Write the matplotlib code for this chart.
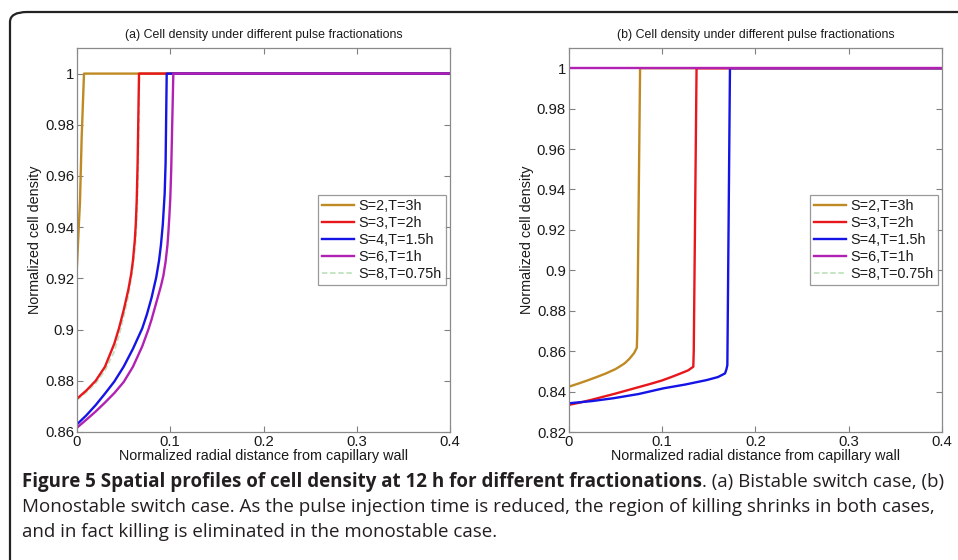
import matplotlib
matplotlib.use("Agg")
import matplotlib.pyplot as plt
from matplotlib.patches import FancyBboxPatch

plt.rcParams['font.family'] = ['Liberation Sans', 'DejaVu Sans']

labels = ["S=2,T=3h", "S=3,T=2h", "S=4,T=1.5h", "S=6,T=1h", "S=8,T=0.75h"]
colors = ["#BF8A24", "#E8171C", "#1414E6", "#B021B4", "#BFE3BF"]

# Panel (a) – bistable switch
a_x_s2 = [0, 0.001, 0.002, 0.0032, 0.005, 0.0075, 0.4]
a_y_s2 = [0.925, 0.933, 0.941, 0.950, 0.975, 1.0, 1.0]
a_x_s3 = [0, 0.01, 0.02, 0.03, 0.04, 0.045, 0.05, 0.055, 0.058, 0.06, 0.062, 0.063, 0.064, 0.065, 0.0665, 0.4]
a_y_s3 = [0.873, 0.8762, 0.880, 0.8855, 0.8945, 0.9005, 0.9075, 0.9155, 0.9215, 0.927, 0.935, 0.941, 0.950, 0.965, 1.0, 1.0]
a_x_s4 = [0, 0.01, 0.02, 0.03, 0.04, 0.05, 0.06, 0.07, 0.075, 0.08, 0.085, 0.088, 0.09, 0.092, 0.094, 0.095, 0.0962, 0.4]
a_y_s4 = [0.863, 0.8665, 0.8705, 0.875, 0.8797, 0.8855, 0.8925, 0.9005, 0.906, 0.9125, 0.9205, 0.927, 0.933, 0.941, 0.953, 0.965, 1.0, 1.0]
a_x_s6 = [0, 0.01, 0.02, 0.03, 0.04, 0.05, 0.06, 0.07, 0.0765, 0.08, 0.085, 0.09, 0.0926, 0.095, 0.097, 0.098, 0.099, 0.1, 0.101, 0.1033, 0.4]
a_y_s6 = [0.8617, 0.8648, 0.868, 0.8715, 0.8752, 0.8795, 0.8855, 0.8935, 0.900, 0.904, 0.9105, 0.917, 0.921, 0.9265, 0.933, 0.938, 0.944, 0.951, 0.962, 1.0, 1.0]
a_x_s8 = [0, 0.01, 0.02, 0.03, 0.04, 0.046, 0.05, 0.055, 0.06, 0.063, 0.0645, 0.0655, 0.067, 0.4]
a_y_s8 = [0.8725, 0.8755, 0.879, 0.884, 0.8915, 0.899, 0.905, 0.913, 0.9245, 0.935, 0.947, 0.960, 1.0, 1.0]

# Panel (b) – monostable switch
b_x_s2 = [0, 0.01, 0.02, 0.03, 0.04, 0.05, 0.055, 0.06, 0.065, 0.07, 0.073, 0.0735, 0.0765, 0.4]
b_y_s2 = [0.8424, 0.8439, 0.8455, 0.8472, 0.849, 0.8511, 0.8525, 0.854, 0.8562, 0.859, 0.8617, 0.870, 1.0, 1.0]
b_x_s3 = [0, 0.0125, 0.025, 0.0375, 0.05, 0.0625, 0.075, 0.0875, 0.1, 0.11, 0.12, 0.128, 0.1335, 0.134, 0.137, 0.4]
b_y_s3 = [0.8334, 0.8346, 0.836, 0.8375, 0.839, 0.8406, 0.8422, 0.8438, 0.8455, 0.8472, 0.849, 0.8505, 0.8523, 0.860, 1.0, 1.0]
b_x_s4 = [0, 0.025, 0.0478, 0.075, 0.1014, 0.125, 0.1479, 0.16, 0.1675, 0.169, 0.170, 0.1728, 0.4]
b_y_s4 = [0.8342, 0.8353, 0.8367, 0.8388, 0.8416, 0.8435, 0.8457, 0.8472, 0.849, 0.851, 0.8531, 1.0, 1.0]
b_x_s6 = [0, 0.4]
b_y_s6 = [1.0, 1.0]
b_x_s8 = [0, 0.4]
b_y_s8 = [1.0, 1.0]

titles = ["(a) Cell density under different pulse fractionations",
          "(b) Cell density under different pulse fractionations"]
xlabel = "Normalized radial distance from capillary wall"
ylabel = "Normalized cell density"
xticks = [0, 0.1, 0.2, 0.3, 0.4]
a_yticks = [0.86, 0.88, 0.9, 0.92, 0.94, 0.96, 0.98, 1.0]
b_yticks = [0.82, 0.84, 0.86, 0.88, 0.9, 0.92, 0.94, 0.96, 0.98, 1.0]
a_ylim = (0.86, 1.01)
b_ylim = (0.82, 1.01)

caption_bold = "Figure 5 Spatial profiles of cell density at 12 h for different fractionations"
caption_rest1 = ". (a) Bistable switch case, (b)"
caption_line2 = "Monostable switch case. As the pulse injection time is reduced, the region of killing shrinks in both cases,"
caption_line3 = "and in fact killing is eliminated in the monostable case."

W, H = 958, 560
fig = plt.figure(figsize=(W / 100, H / 100), dpi=100)
fig.patch.set_facecolor("white")


def fx(px):
    return px / W


def fy(py):
    return 1 - py / H


def fmt(v):
    return "%g" % v


def make_panel(rect, series, yticks, ylim, title):
    ax = fig.add_axes(rect)
    for i, (xs, ys) in enumerate(series):
        ls = (0, (3, 1.5)) if i == 4 else "-"
        z = 1.9 if i == 4 else 2 + (i * 0.01)
        ax.plot(xs, ys, color=colors[i], lw=1.7 if i < 4 else 1.3, ls=ls,
                label=labels[i], zorder=z)
    ax.set_xlim(0, 0.4)
    ax.set_ylim(*ylim)
    ax.set_xticks(xticks)
    ax.set_xticklabels([fmt(v) for v in xticks])
    ax.set_yticks(yticks)
    ax.set_yticklabels([fmt(v) for v in yticks])
    ax.tick_params(direction="in", length=4, width=0.8, color="#808080",
                   labelsize=10.7, pad=2, top=True, right=True,
                   labelcolor="#1a1a1a")
    for sp in ax.spines.values():
        sp.set_color("#8a8a8a")
        sp.set_linewidth(0.9)
    ax.set_title(title, fontsize=8.9, pad=7, color="#1a1a1a")
    ax.set_xlabel(xlabel, fontsize=10.4, labelpad=0, color="#1a1a1a")
    ax.set_ylabel(ylabel, fontsize=10.4, labelpad=2, color="#1a1a1a")
    return ax


axA = make_panel([fx(77), fy(432), fx(450) - fx(77), fy(48) - fy(432)],
                 [(a_x_s2, a_y_s2), (a_x_s3, a_y_s3), (a_x_s4, a_y_s4),
                  (a_x_s6, a_y_s6), (a_x_s8, a_y_s8)],
                 a_yticks, a_ylim, titles[0])
axB = make_panel([fx(568.7), fy(432), fx(942) - fx(568.7), fy(48) - fy(432)],
                 [(b_x_s2, b_y_s2), (b_x_s3, b_y_s3), (b_x_s4, b_y_s4),
                  (b_x_s6, b_y_s6), (b_x_s8, b_y_s8)],
                 b_yticks, b_ylim, titles[1])

for ax, (lx, ly) in ((axA, (318, 195)), (axB, (810, 195))):
    leg = ax.legend(loc="upper left", bbox_to_anchor=(fx(lx), fy(ly)),
                    bbox_transform=fig.transFigure, fontsize=10.4,
                    frameon=True, fancybox=False, borderpad=0.3,
                    labelspacing=0.2, handlelength=2.2, handletextpad=0.3,
                    borderaxespad=0)
    leg.get_frame().set_edgecolor("#808080")
    leg.get_frame().set_linewidth(0.9)
    for t in leg.get_texts():
        t.set_color("#1a1a1a")

# Outer rounded border (extends beyond the right and bottom edges)
border = FancyBboxPatch((fx(10), fy(600)), fx(1000) - fx(10), fy(12) - fy(600),
                        boxstyle="round,pad=0,rounding_size=0.018",
                        transform=fig.transFigure, fill=False,
                        edgecolor="#222222", linewidth=1.6, clip_on=False)
fig.patches.append(border)

# Caption
cap_font = ['Open Sans', 'DejaVu Sans']
cap_size = 13.5
renderer = fig.canvas.get_renderer()
x0 = fx(22)
tb = fig.text(x0, fy(482), caption_bold, fontsize=cap_size, fontweight="bold",
              family=cap_font, va="center", ha="left", color="#231f20")
bb = tb.get_window_extent(renderer=renderer)
fig.text(bb.x1 / W, fy(482), caption_rest1, fontsize=cap_size, family=cap_font,
         va="center", ha="left", color="#231f20")
fig.text(x0, fy(507), caption_line2, fontsize=cap_size, family=cap_font,
         va="center", ha="left", color="#231f20")
fig.text(x0, fy(532), caption_line3, fontsize=cap_size, family=cap_font,
         va="center", ha="left", color="#231f20")

fig.savefig("out.png", dpi=100, facecolor="white")
